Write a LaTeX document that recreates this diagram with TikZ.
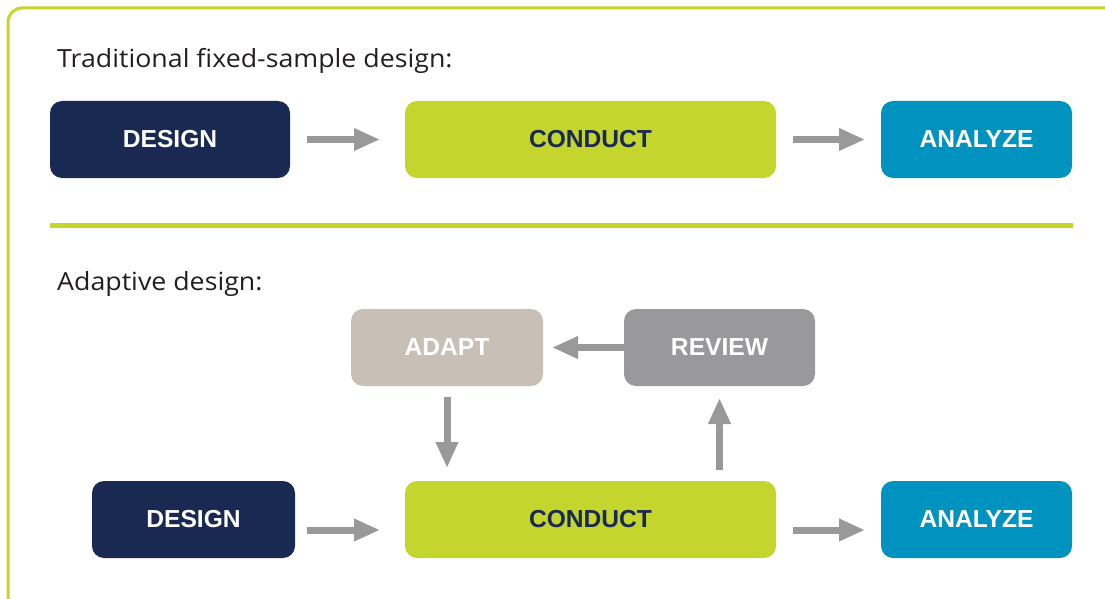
\documentclass[tikz,border=0pt]{standalone}
\usepackage{fontspec}
\setmainfont{Liberation Sans}
\newfontfamily\headfont[FakeStretch=1.07]{Open Sans}
\usetikzlibrary{arrows.meta}
\definecolor{navy}{HTML}{1A2952}
\definecolor{lime}{HTML}{C4D62E}
\definecolor{teal}{HTML}{0093BF}
\definecolor{taupe}{HTML}{C8BFB6}
\definecolor{stone}{HTML}{99999B}
\definecolor{flowgray}{HTML}{999999}
\definecolor{ink}{HTML}{231F20}
\tikzset{
  stage/.style={rounded corners=12pt, minimum height=77pt, inner sep=0pt,
    outer sep=0pt, font=\fontsize{24.6}{24.6}\selectfont\bfseries, text=white},
  flow/.style={draw=flowgray, line width=7pt,
    -{Triangle[length=26pt,width=21pt]}},
  heading/.style={anchor=base west, inner sep=0pt, text=ink,
    font=\headfont\fontsize{25}{25}\selectfont}
}
\begin{document}
\begin{tikzpicture}[x=1pt,y=-1pt]
\useasboundingbox (0,0) rectangle (1105,599);
% outer frame, running off the right and bottom edges
\begin{scope}
  \clip (0,0) rectangle (1105,599);
  \draw[lime, line width=3pt, rounded corners=14pt] (8,8) rectangle (1125,612);
\end{scope}

% fixed-sample design
\node[heading] (t1) at (57,68) {Traditional fixed-sample design:};
\node[stage, fill=navy, minimum width=240pt] (d1) at (170,139.5) {DESIGN};
\node[stage, fill=lime, text=navy, minimum width=371pt] (c1) at (590.5,139.5) {CONDUCT};
\node[stage, fill=teal, minimum width=191pt] (a1) at (976.5,139.5) {ANALYZE};
\draw[flow, shorten <=17pt, shorten >=25pt] (d1.east) -- (c1.west);
\draw[flow, shorten <=17pt, shorten >=16pt] (c1.east) -- (a1.west);

% separator
\coordinate (s1) at (50,225);
\coordinate (s2) at (1073,225);
\draw[lime, line width=5pt] (s1) -- (s2);

% adaptive design
\node[heading] (t2) at (57,290) {Adaptive design:};
\node[stage, fill=taupe, minimum width=192pt] (ad) at (447,347.5) {ADAPT};
\node[stage, fill=stone, minimum width=191pt] (rv) at (719.5,347.5) {REVIEW};
\node[stage, fill=navy, minimum width=203pt] (d2) at (193.5,519.5) {DESIGN};
\node[stage, fill=lime, text=navy, minimum width=371pt] (c2) at (590.5,519.5) {CONDUCT};
\node[stage, fill=teal, minimum width=191pt] (a2) at (976.5,519.5) {ANALYZE};

\draw[flow, shorten >=9pt] (rv.west) -- (ad.east);
\draw[flow, shorten <=11pt, shorten >=13pt] (ad.south) -- (ad.south |- c2.north);
\draw[flow, shorten <=11pt, shorten >=12pt] (c2.north -| rv.south) -- (rv.south);
\draw[flow, shorten <=12pt, shorten >=25pt] ([yshift=-10.5pt]d2.east) -- ([yshift=-10.5pt]c2.west);
\draw[flow, shorten <=17pt, shorten >=16pt] ([yshift=-10.5pt]c2.east) -- ([yshift=-10.5pt]a2.west);
\end{tikzpicture}
\end{document}
